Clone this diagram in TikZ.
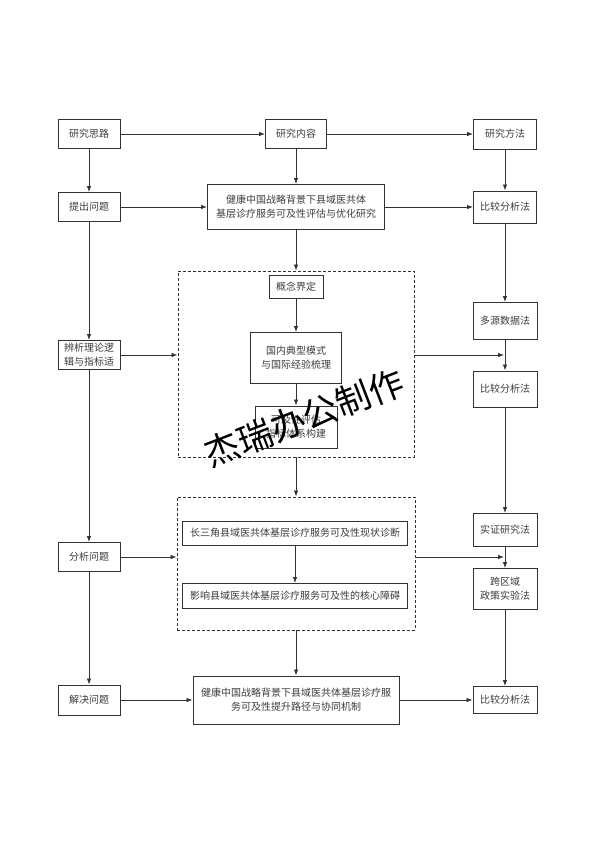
\documentclass[tikz,border=0pt]{standalone}
\usepackage{fontspec}
\newfontfamily\cjk{Noto Sans CJK SC}
\usetikzlibrary{arrows.meta,positioning}
\definecolor{linegray}{HTML}{333333}
\definecolor{textgray}{HTML}{3C3C3C}

\begin{document}
\begin{tikzpicture}[
  x=1pt,y=-1pt,
  every node/.style={font=\cjk\fontsize{10}{14}\selectfont,align=center,text=textgray},
  box/.style={draw=linegray,line width=1pt,inner sep=1pt,minimum width=62pt,minimum height=29pt},
  group/.style={draw=linegray,line width=0.9pt,dash pattern=on 3pt off 2pt},
  arr/.style={-{Latex[length=6pt,width=4.5pt]},line width=0.8pt,color=linegray}
]
\useasboundingbox (0,0) rectangle (594,841);
% dashed groups
\node[group,minimum width=236pt,minimum height=186pt] (grpA) at (296,364) {};
\node[group,minimum width=238pt,minimum height=133pt] (grpB) at (296,563.5) {};
% left column
\node[box] (silu) at (89,134) {研究思路};
\node[box] (tichu) at (89,207) {提出问题};
\node[box] (bianxi) at (89,355) {辨析理论逻\\辑与指标适};
\node[box] (fenxi) at (89,557) {分析问题};
\node[box,minimum height=30pt] (jiejue) at (89,700) {解决问题};
% middle column
\node[box,minimum width=61pt] (neirong) at (296,134) {研究内容};
\node[box,minimum width=177pt,minimum height=45pt] (zhuti) at (296,207) {健康中国战略背景下县域医共体\\基层诊疗服务可及性评估与优化研究};
\node[box,minimum width=54pt,minimum height=23pt] (gainian) at (296,287) {概念界定};
\node[box,minimum width=91pt,minimum height=51pt] (guonei) at (296,358) {国内典型模式\\与国际经验梳理};
\node[box,minimum width=82pt,minimum height=42pt] (pingjia) at (296,427) {可及性评估\\指标体系构建};
\node[box,minimum width=225pt,minimum height=24pt] (xianzhuang) at (295,533) {长三角县域医共体基层诊疗服务可及性现状诊断};
\node[box,minimum width=225pt,minimum height=25pt] (zhangai) at (295,596) {影响县域医共体基层诊疗服务可及性的核心障碍};
\node[box,minimum width=206pt,minimum height=48pt] (lujing) at (296,700) {健康中国战略背景下县域医共体基层诊疗服\\务可及性提升路径与协同机制};
% right column
\node[box,minimum width=63pt,minimum height=30pt] (fangfa) at (505,134) {研究方法};
\node[box,minimum width=63pt,minimum height=32pt] (bijiaoA) at (505,207) {比较分析法};
\node[box,minimum width=64pt,minimum height=37pt] (duoyuan) at (505,321) {多源数据法};
\node[box,minimum width=64pt,minimum height=36pt] (bijiaoB) at (505,389) {比较分析法};
\node[box,minimum width=64pt,minimum height=33pt] (shizheng) at (505,530) {实证研究法};
\node[box,minimum width=64pt,minimum height=41pt] (kuaquyu) at (505,589) {跨区域\\政策实验法};
\node[box,minimum width=64pt,minimum height=27pt] (bijiaoC) at (505,700) {比较分析法};
% connectors
\draw[arr] (silu) -- (neirong);
\draw[arr] (neirong) -- (fangfa);
\draw[arr] (silu) -- (tichu);
\draw[arr] (tichu) -- (bianxi);
\draw[arr] (bianxi) -- (fenxi);
\draw[arr] (fenxi) -- (jiejue);
\draw[arr] (neirong) -- (zhuti);
\draw[arr] (tichu) -- (zhuti);
\draw[arr] (zhuti) -- (bijiaoA);
\draw[arr] (zhuti) -- (grpA);
\draw[arr] (gainian) -- (guonei);
\draw[arr] (guonei) -- (pingjia);
\draw[arr] (bianxi) -- (bianxi -| grpA.west);
\draw[arr,shorten >=1pt] (grpA.east |- bianxi) -- (bianxi -| duoyuan);
\draw[arr] (grpA) -- (grpB);
\draw[arr] (xianzhuang) -- (zhangai);
\draw[arr] (fenxi) -- (fenxi -| grpB.west);
\draw[arr,shorten >=1pt] (grpB.east |- fenxi) -- (fenxi -| shizheng);
\draw[arr] (grpB) -- (lujing);
\draw[arr] (jiejue) -- (lujing);
\draw[arr] (lujing) -- (bijiaoC);
\draw[arr] (fangfa) -- (bijiaoA);
\draw[arr] (bijiaoA) -- (duoyuan);
\draw[arr] (duoyuan) -- (bijiaoB);
\draw[arr] (bijiaoB) -- (shizheng);
\draw[arr] (shizheng) -- (kuaquyu);
\draw[arr] (kuaquyu) -- (bijiaoC);
% watermark
\node[font=\cjk\fontsize{35}{35}\selectfont,text=black,rotate=21] (mark) at (304,418) {杰瑞办公制作};
\end{tikzpicture}
\end{document}
